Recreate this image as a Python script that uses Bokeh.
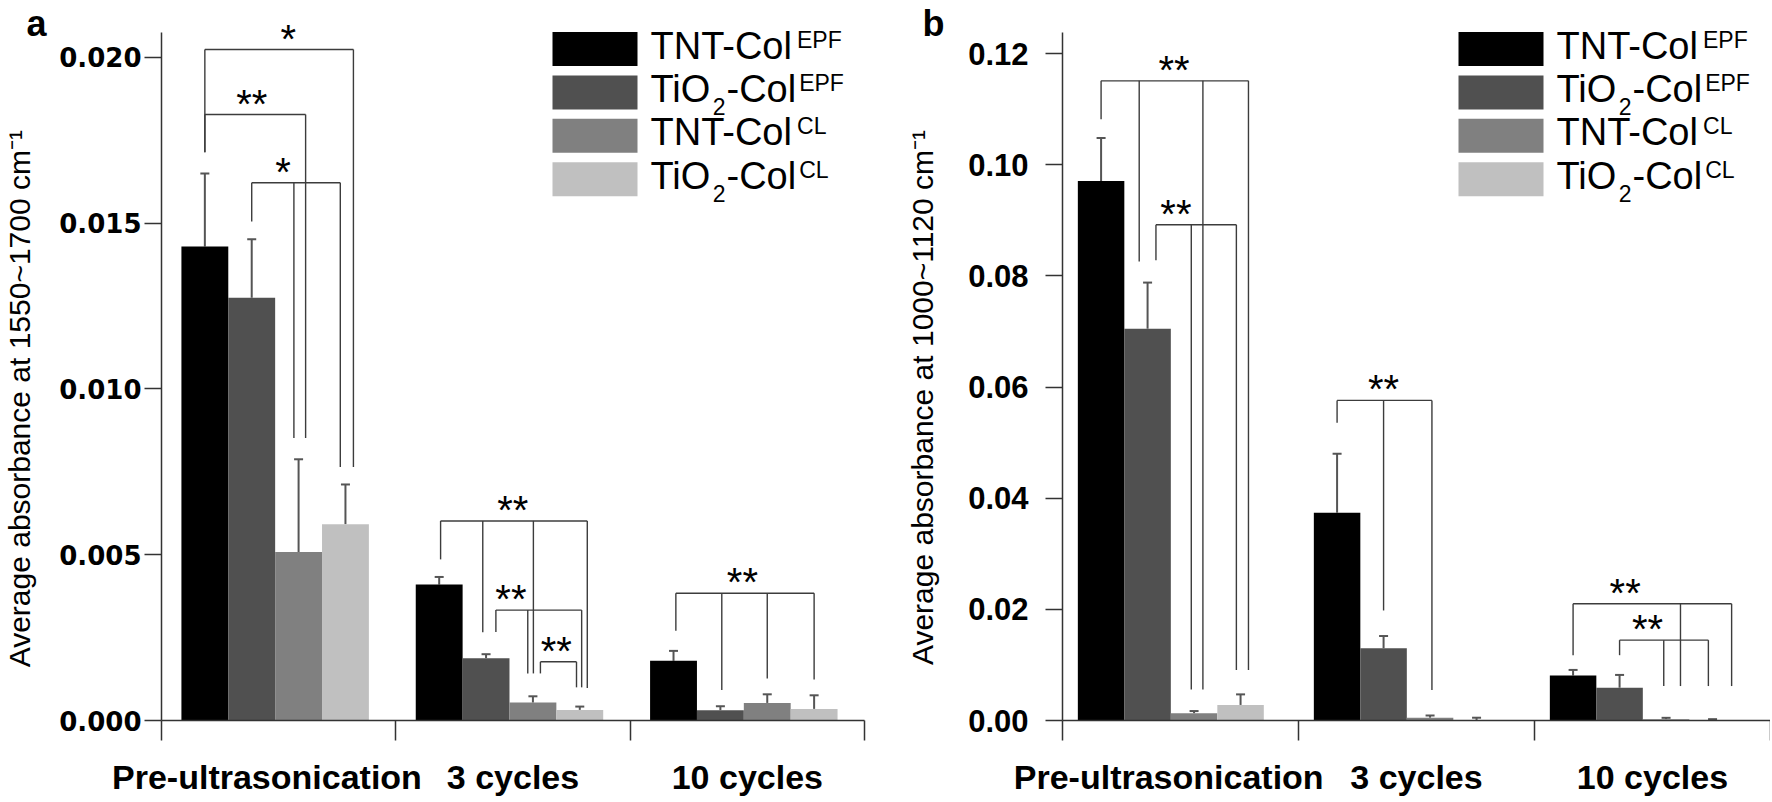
from bokeh.plotting import figure
from bokeh.models import (Range1d, FixedTicker, NumeralTickFormatter, ColumnDataSource,
                          Whisker, TeeHead, Label, BoxAnnotation)
from bokeh.layouts import row
from bokeh.core.properties import value
from bokeh.embed import file_html
from bokeh.resources import INLINE

# ---------------- data ----------------
categories = ["Pre-ultrasonication", "3 cycles", "10 cycles"]
series_colors = ["#000000", "#505050", "#808080", "#c0c0c0"]
legend_parts = [
    [("TNT-Col", "n"), ("EPF", "sup")],
    [("TiO", "n"), ("2", "sub"), ("-Col", "n"), ("EPF", "sup")],
    [("TNT-Col", "n"), ("CL", "sup")],
    [("TiO", "n"), ("2", "sub"), ("-Col", "n"), ("CL", "sup")],
]

# panel a : average absorbance at 1550~1700 cm-1 (mean, SD)
a_tnt_epf = [0.0143, 0.0041, 0.0018]
a_tnt_epf_sd = [0.0022, 0.00023, 0.0003]
a_tio2_epf = [0.01275, 0.00188, 0.00031]
a_tio2_epf_sd = [0.00177, 0.00012, 0.00012]
a_tnt_cl = [0.00508, 0.00054, 0.00053]
a_tnt_cl_sd = [0.0028, 0.00019, 0.00026]
a_tio2_cl = [0.00592, 0.00032, 0.00035]
a_tio2_cl_sd = [0.0012, 0.0001, 0.00041]
a_yticks = [0.0, 0.005, 0.010, 0.015, 0.020]

# panel b : average absorbance at 1000~1120 cm-1 (mean, SD)
b_tnt_epf = [0.0971, 0.0374, 0.0081]
b_tnt_epf_sd = [0.0077, 0.0106, 0.0010]
b_tio2_epf = [0.0705, 0.0130, 0.0059]
b_tio2_epf_sd = [0.0083, 0.0022, 0.0023]
b_tnt_cl = [0.0013, 0.0005, 0.00024]
b_tnt_cl_sd = [0.0004, 0.0004, 0.00024]
b_tio2_cl = [0.0028, 0.0001, 0.0001]
b_tio2_cl_sd = [0.0019, 0.0004, 0.00014]
b_yticks = [0.0, 0.02, 0.04, 0.06, 0.08, 0.10, 0.12]

# significance brackets: (category, level, stars, star position in bars,
#                         [(bar, leg shift in bar widths, leg bottom)])
a_brackets = [
    (0, 0.02024, "*", 1.78, [(0, 0.0, 0.01714), (3, 0.17, 0.00765)]),
    (0, 0.01828, "**", 1.0, [(0, 0.0, 0.01714), (2, 0.15, 0.00852)]),
    (0, 0.01622, "*", 1.67, [(1, 0.0, 0.01505), (2, -0.10, 0.00852), (3, -0.11, 0.00765)]),
    (1, 0.00602, "**", 1.57, [(0, 0.03, 0.00486), (1, -0.07, 0.00266), (2, 0.01, 0.00142), (3, 0.16, 0.00098)]),
    (1, 0.00333, "**", 1.53, [(1, 0.21, 0.00267), (2, -0.11, 0.00142), (3, 0.04, 0.0010)]),
    (1, 0.00177, "**", 2.5, [(2, 0.16, 0.00142), (3, -0.07, 0.0010)]),
    (2, 0.00384, "**", 1.47, [(0, 0.05, 0.00271), (1, 0.03, 0.00092), (2, 0.0, 0.00127), (3, 0.0, 0.00124)]),
]
b_brackets = [
    (0, 0.1151, "**", 1.57, [(0, 0.0, 0.1082), (1, -0.18, 0.0826), (2, 0.19, 0.0056), (3, 0.17, 0.0091)]),
    (0, 0.0892, "**", 1.61, [(1, 0.18, 0.0828), (2, -0.06, 0.0056), (3, -0.09, 0.0091)]),
    (1, 0.0576, "**", 1.0, [(0, 0.0, 0.0536), (1, 0.0, 0.0198), (2, 0.04, 0.0055)]),
    (2, 0.0210, "**", 1.12, [(0, 0.0, 0.01175), (2, 0.31, 0.0062), (3, 0.41, 0.0062)]),
    (2, 0.01446, "**", 1.6, [(1, 0.0, 0.01175), (2, -0.05, 0.0062), (3, -0.09, 0.0062)]),
]

# ---------------- layout (reference-pixel geometry) ----------------
FIG_H = 800
REF_Y0, REF_Y1 = 0.0, 800.0          # reference rows shown by the figure
REF_TOP, REF_BASE = 32.0, 720.0      # reference rows of axis top / zero line
LABEL_TICKS = [0.45, 1.5, 2.5]
BASE_SHIFT = 0.45                     # alphabetic baseline correction (in em)

AW = {"T": 611, "N": 722, "-": 333, "C": 722, "o": 556, "l": 222, "i": 222,
      "O": 778, "2": 556, "E": 667, "P": 667, "F": 611, "L": 556}


def text_w(s, size):
    return sum(AW.get(ch, 556) for ch in s) * size / 1000.0


def make_panel(vals, sds, y_top, yticks, fmt, brackets, start, bw,
               fig_w, ref_x0, ref_x1, ref_left, ref_w,
               tick_font, tick_size, tick_standoff,
               sw_ref, text_ref, letter, letter_ref, title, title_ref):
    def X(rx):
        return (rx - ref_left) / ref_w * 3.0

    def Y(ry):
        return (REF_BASE - ry) / (REF_BASE - REF_TOP) * y_top

    p = figure(width=fig_w, height=FIG_H,
               x_range=Range1d(X(ref_x0), X(ref_x1)), y_range=Range1d(Y(REF_Y1), Y(REF_Y0)),
               output_backend="svg", toolbar_location=None,
               min_border_left=0, min_border_right=0, min_border_top=0, min_border_bottom=0)
    p.outline_line_color = None
    p.xgrid.visible = False
    p.ygrid.visible = False
    p.background_fill_color = "white"
    p.border_fill_color = "white"

    n = len(categories)
    for j in range(4):
        xs = [i + start + bw * (j + 0.5) for i in range(n)]
        tops = [m + s for m, s in zip(vals[j], sds[j])]
        src = ColumnDataSource(dict(x=xs, mean=vals[j], top=tops))
        p.vbar(x="x", top="mean", width=bw, source=src,
               fill_color=series_colors[j], line_color=None)
        p.add_layout(Whisker(source=src, base="x", upper="top", lower="mean",
                             dimension="height", line_color="#555555", line_width=2,
                             lower_head=None,
                             upper_head=TeeHead(size=9, line_color="#555555", line_width=2)))

    x0, y0, x1, y1 = [], [], [], []
    sx, sy, st = [], [], []
    for cat, level, stars, spos, legs in brackets:
        lx = [cat + start + bw * (b + 0.5 + sh) for (b, sh, bot) in legs]
        x0.append(min(lx)); x1.append(max(lx)); y0.append(level); y1.append(level)
        for xx, (b, sh, bot) in zip(lx, legs):
            x0.append(xx); x1.append(xx); y0.append(level); y1.append(bot)
        sx.append(cat + start + bw * (spos + 0.5)); sy.append(level); st.append(stars)
    p.segment(x0=x0, y0=y0, x1=x1, y1=y1, line_color="#3c3c3c", line_width=1.4)
    p.text(x=sx, y=sy, text=st, text_font=value("Liberation Sans"), text_font_size="40px",
           text_align="center", text_baseline="alphabetic", y_offset=-11, text_color="black")

    # axes, drawn at the data origin
    yax = p.yaxis[0]
    yax.fixed_location = 0
    yax.bounds = (0, y_top)
    yax.ticker = FixedTicker(ticks=yticks, minor_ticks=[])
    yax.formatter = NumeralTickFormatter(format=fmt)
    yax.axis_line_color = "#333333"
    yax.axis_line_width = 1.5
    yax.major_tick_line_color = "#333333"
    yax.major_tick_line_width = 1.5
    yax.major_tick_out = 17
    yax.major_tick_in = 0
    yax.minor_tick_line_color = None
    yax.major_label_text_font = tick_font
    yax.major_label_text_font_style = "bold"
    yax.major_label_text_font_size = tick_size
    yax.major_label_text_color = "black"
    yax.major_label_standoff = tick_standoff

    xax = p.xaxis[0]
    xax.fixed_location = 0
    xax.bounds = (0, 3)
    xax.ticker = FixedTicker(ticks=LABEL_TICKS, minor_ticks=[0, 1, 2, 3])
    xax.major_label_overrides = {t: c for t, c in zip(LABEL_TICKS, categories)}
    xax.axis_line_color = "#333333"
    xax.axis_line_width = 1.5
    xax.major_tick_line_color = None
    xax.major_tick_out = 0
    xax.major_tick_in = 0
    xax.minor_tick_line_color = "#333333"
    xax.minor_tick_line_width = 1.5
    xax.minor_tick_out = 20
    xax.minor_tick_in = 0
    xax.major_label_text_font = "Liberation Sans"
    xax.major_label_text_font_style = "bold"
    xax.major_label_text_font_size = "34px"
    xax.major_label_text_color = "black"
    xax.major_label_standoff = 17

    # legend (drawn by hand for sub/superscripts)
    for k in range(4):
        top = 31.5 + 43.4 * k
        p.add_layout(BoxAnnotation(left=X(sw_ref[0]), right=X(sw_ref[1]),
                                   top=Y(top), bottom=Y(top + 34),
                                   fill_color=series_colors[k], fill_alpha=1.0,
                                   line_color=None))
        base = top + 30.6
        off = 0.0
        for txt, kind in legend_parts[k]:
            if kind == "n":
                size, yb = 38, base
            elif kind == "sup":
                off += 3
                size, yb = 23, base - 12.7
            else:
                off += 1
                size, yb = 23, base + 11
            p.add_layout(Label(x=X(text_ref), y=Y(yb - BASE_SHIFT * size), x_offset=off,
                               text=txt, text_font="Liberation Sans",
                               text_font_size=f"{size}px", text_baseline="alphabetic",
                               text_align="left", text_color="black"))
            off += text_w(txt, size) + (1 if kind == "sub" else 0)

    # panel letter (centred vertically on its reference row)
    p.add_layout(Label(x=X(letter_ref[0]), y=Y(letter_ref[1]), text=letter,
                       text_font="Liberation Sans", text_font_style="bold",
                       text_font_size="36px", text_baseline="middle",
                       text_align="left", text_color="black"))
    # y-axis title
    p.add_layout(Label(x=X(title_ref[0]), y=Y(title_ref[1]), text=title, angle=90,
                       angle_units="deg", text_font="Liberation Sans",
                       text_font_size="30px", text_align="center",
                       text_baseline="middle", text_color="black"))
    return p


pa = make_panel([a_tnt_epf, a_tio2_epf, a_tnt_cl, a_tio2_cl],
                [a_tnt_epf_sd, a_tio2_epf_sd, a_tnt_cl_sd, a_tio2_cl_sd],
                0.020754, a_yticks, "0.000", a_brackets, 0.085, 0.2,
                886, 0.0, 886.0, 161.0, 703.0,
                "DejaVu Sans", "26px", 3,
                (552, 637), 650, "a", (26, 23),
                "Average absorbance  at 1550~1700 cm\u207b\u00b9", (19, 394))

pb = make_panel([b_tnt_epf, b_tio2_epf, b_tnt_cl, b_tio2_cl],
                [b_tnt_epf_sd, b_tio2_epf_sd, b_tnt_cl_sd, b_tio2_cl_sd],
                0.1238, b_yticks, "0.00", b_brackets, 0.065, 0.197,
                884, 886.0, 1770.0, 1062.0, 708.0,
                "Liberation Sans", "31px", 17,
                (1458, 1543), 1556, "b", (922, 23),
                "Average absorbance at 1000~1120 cm\u207b\u00b9", (922, 397))

layout = row(pa, pb)
open("out.html", "w").write(file_html(layout, INLINE))
